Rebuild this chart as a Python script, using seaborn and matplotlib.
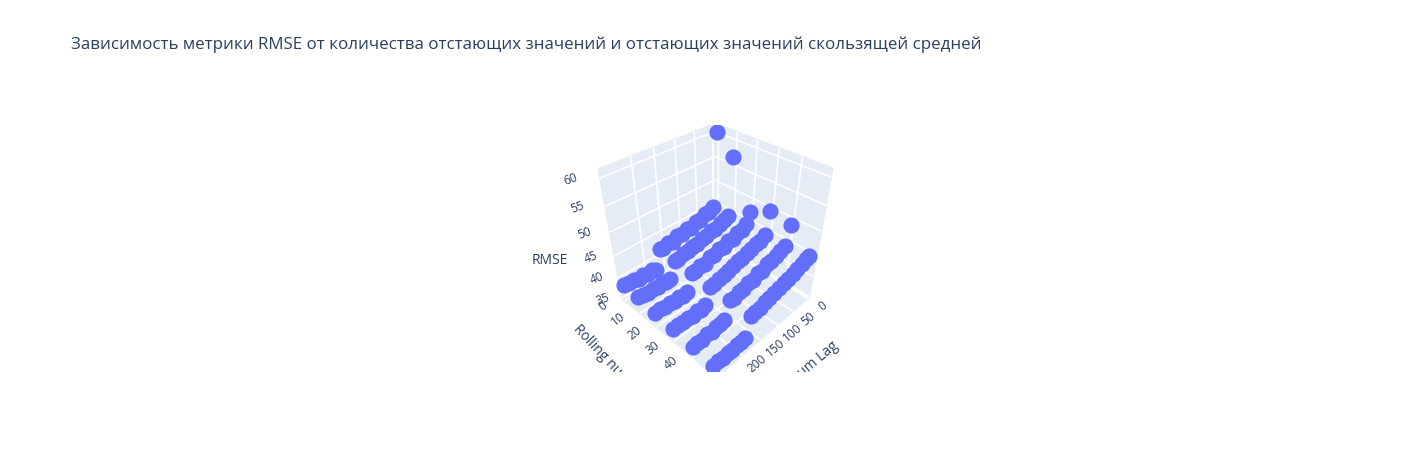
import numpy as np
import pandas as pd
import seaborn as sns
import matplotlib
matplotlib.use("Agg")
import matplotlib.pyplot as plt
from matplotlib.patches import Rectangle
from mpl_toolkits.mplot3d import proj3d

TITLE = "Зависимость метрики RMSE от количества отстающих значений и отстающих значений скользящей средней"
lags = [4, 15, 28, 41, 55, 68, 81, 94, 108, 121, 134, 147, 160, 169,
        184, 194, 205, 216, 228, 240, 252, 263]
rolling = [1, 10, 20, 30, 40, 50]
rmse_r1 = [60.6, 45.3, 44.5, 44.6, 43.8, 44.0, 43.2, 43.5, 42.9, 43.1, 42.4, 42.6, 42.1, 42.3,
           38.1, 38.6, 38.3, 38.8, 38.5, 39.0, 38.8, 39.1]
rmse_r2 = [57.0, 45.0, 44.5, 44.3, 43.8, 43.8, 43.2, 43.3, 42.8, 42.8, 42.3, 42.4, 41.9, 41.9,
           38.4, 38.2, 38.6, 38.3, 38.7, 38.5, 38.8, 38.8]
rmse_r3 = [47.6, 45.2, 44.5, 44.5, 43.7, 43.9, 43.1, 43.3, 42.6, 42.8, 42.1, 42.3, 41.7, 41.8,
           38.2, 37.9, 38.3, 38.0, 38.4, 38.2, 38.5, 38.4]
rmse_r4 = [49.7, 45.0, 44.4, 44.3, 43.8, 43.7, 43.2, 43.1, 42.7, 42.5, 42.2, 42.0, 41.8, 41.6,
           38.2, 37.8, 38.2, 37.8, 38.1, 38.0, 38.1, 38.0]
rmse_r5 = [49.0, 45.1, 44.5, 44.2, 43.7, 43.7, 43.0, 43.1, 42.4, 42.6, 41.9, 42.1, 41.5, 41.6,
           38.1, 37.7, 37.9, 37.5, 37.8, 37.4, 37.6, 37.5]
rmse_r6 = [44.8, 44.6, 44.3, 43.9, 43.6, 43.3, 43.1, 42.7, 42.6, 42.2, 42.1, 41.6, 41.7, 41.3,
           37.4, 37.0, 37.3, 36.9, 37.2, 36.9, 37.1, 37.0]
rmse_rows = [rmse_r1, rmse_r2, rmse_r3, rmse_r4, rmse_r5, rmse_r6]
x_ticks = [0, 50, 100, 150, 200]
y_ticks = [0, 10, 20, 30, 40]
z_ticks = [35, 40, 45, 50, 55, 60]

df = pd.DataFrame([
    {"lag": l, "roll": r, "rmse": v}
    for r, row in zip(rolling, rmse_rows) for l, v in zip(lags, row)
])

INK = "#2a3f5f"
sns.set_theme(style="white", rc={"grid.color": "white", "grid.linewidth": 1.2,
                                 "axes.edgecolor": "white"})
plt.rcParams["font.family"] = ["Open Sans", "DejaVu Sans"]

fig = plt.figure(figsize=(14.28, 4.5), dpi=100, facecolor="white")
W, H = 1428, 450
ax = fig.add_axes([0.2 - 8 / W, -0.3 - 25 / H, 0.6, 1.6], projection="3d", facecolor="none")
ax.set_proj_type("persp", focal_length=0.11)
ax.view_init(elev=37, azim=44.5)
ax.set_box_aspect((1, 1, 1.08), zoom=0.354)
color = sns.color_palette(["#636EFA"])[0]
ax.scatter(df["lag"], df["roll"], df["rmse"], s=135, color=color, depthshade=False,
           linewidths=0, alpha=1)
XLIM, YLIM, ZLIM = (-6, 265), (-2, 52), (35.5, 61.5)
ax.set_xlim(*XLIM)
ax.set_ylim(*YLIM)
ax.set_zlim(*ZLIM)
ax.set_xticks(x_ticks); ax.set_yticks(y_ticks); ax.set_zticks(z_ticks)
ax.set_xticklabels([]); ax.set_yticklabels([]); ax.set_zticklabels([])
for a in (ax.xaxis, ax.yaxis, ax.zaxis):
    a.set_pane_color("#E5ECF6")
    a.pane.set_edgecolor("#E5ECF6")
    a.line.set_color((1, 1, 1, 0))
ax.tick_params(axis="both", length=0, color=(0, 0, 0, 0))
ax.tick_params(axis="z", length=0, color=(0, 0, 0, 0))

fig.canvas.draw()
M = ax.get_proj()

def tick_label(x, y, z, s, dx, dy, rot):
    u, v, _ = proj3d.proj_transform(x, y, z, M)
    p = ax.transData.transform((u, v))
    fig.text((p[0] + dx) / W, (p[1] + dy) / H, s, color=INK, fontsize=8.6, ha="center",
             va="center", rotation=rot, rotation_mode="anchor", zorder=5)

for t in x_ticks:
    tick_label(t, YLIM[1], ZLIM[0], str(t), 15, -10, 40)
for t in y_ticks:
    tick_label(XLIM[1], t, ZLIM[0], str(t), -21, -8, 38)
for t in z_ticks:
    tick_label(XLIM[1], YLIM[0], t, str(t), -19 - (t - 35) * 0.4, -1, 20)

def px(x, y):
    return x / W, 1 - y / H

fig.add_artist(Rectangle((0, 0), 1, 1 - 372 / H, transform=fig.transFigure, fc="white", ec="none", zorder=10))
fig.add_artist(Rectangle((0, 1 - 125 / H), 1, 125 / H, transform=fig.transFigure, fc="white", ec="none", zorder=10))
fig.text(*px(71, 44.5), TITLE, fontsize=12.2, color=INK, va="center", ha="left", zorder=11)
fig.text(*px(550, 261), "RMSE", fontsize=10, color=INK, va="center", ha="center", zorder=5)
fig.text(*px(609, 363), "Rolling number", fontsize=10, color=INK, va="center", ha="center", rotation=-47, rotation_mode="anchor", zorder=5)
fig.text(*px(801, 374), "Maximum Lag", fontsize=10, color=INK, va="center", ha="center", rotation=40, rotation_mode="anchor", zorder=5)
fig.savefig("out.png", dpi=100, facecolor="white")
